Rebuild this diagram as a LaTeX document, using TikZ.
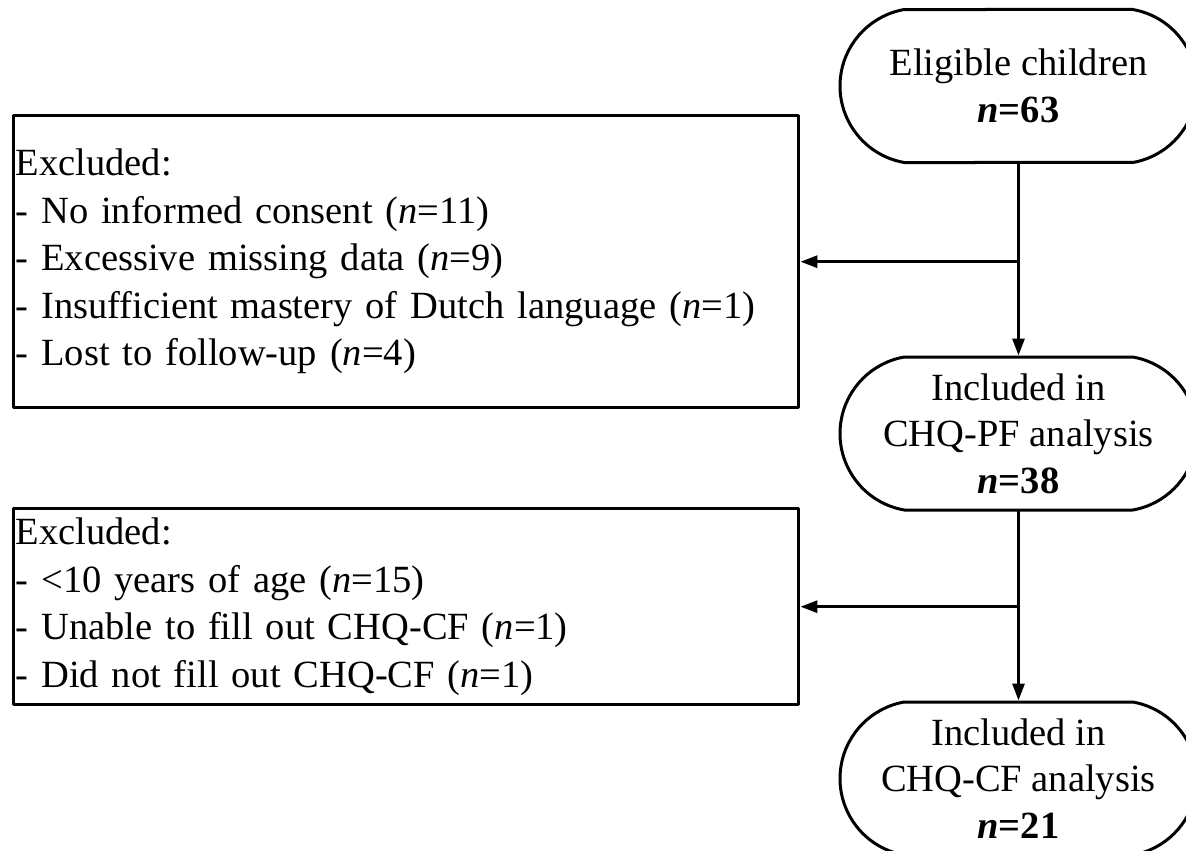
\documentclass[tikz,border=0pt]{standalone}
\usepackage{fontspec}
\setmainfont{Liberation Serif}
\usetikzlibrary{arrows.meta}
\usetikzlibrary{shapes.misc}

\begin{document}
\begin{tikzpicture}[line cap=round,line join=round,>={Triangle[length=17pt,width=12pt]},x=1.0pt,y=-1.0pt,
    terminal/.style={draw,line width=3pt,rounded rectangle,rounded rectangle arc length=160,
      minimum width=357pt,minimum height=153pt,align=center,inner sep=0pt,
      font=\fontsize{38.5}{46.5}\selectfont},
    exclbox/.style={draw,line width=3.4pt,rectangle,anchor=north west,align=left,
      text width=781pt,inner xsep=2pt,inner ysep=0pt,minimum width=785pt,
      font=\fontsize{38.5}{47.5}\selectfont},
    flow/.style={->,line width=3pt}]
      \useasboundingbox (0,0) rectangle (1186,851);
      % terminals on the right
      \node[terminal] (elig) at (1018.5,86) {Eligible children\\\textbf{\textit{n}=63}};
      \node[terminal] (pf) at (1018.5,433.5) {Included in\\CHQ-PF analysis\\\textbf{\textit{n}=38}};
      \node[terminal] (cf) at (1018.5,778.5) {Included in\\CHQ-CF analysis\\\textbf{\textit{n}=21}};
      % exclusion boxes on the left
      \node[exclbox,minimum height=292pt] (excla) at (12,114) {Excluded:\\
        - No informed consent (\textit{n}=11)\\
        - Excessive missing data (\textit{n}=9)\\
        - Insufficient mastery of Dutch language (\textit{n}=1)\\
        - Lost to follow-up (\textit{n}=4)};
      \node[exclbox,minimum height=196pt] (exclb) at (12,507) {Excluded:\\
        - <10 years of age (\textit{n}=15)\\
        - Unable to fill out CHQ-CF (\textit{n}=1)\\
        - Did not fill out CHQ-CF (\textit{n}=1)};
      % connectors
      \draw[flow] (elig.south) -- (pf.north);
      \draw[flow] (pf.south) -- (cf.north);
      \draw[flow] (elig.south |- excla.east) -- (excla.east);
      \draw[flow] (pf.south |- exclb.east) -- (exclb.east);
\end{tikzpicture}
\end{document}
